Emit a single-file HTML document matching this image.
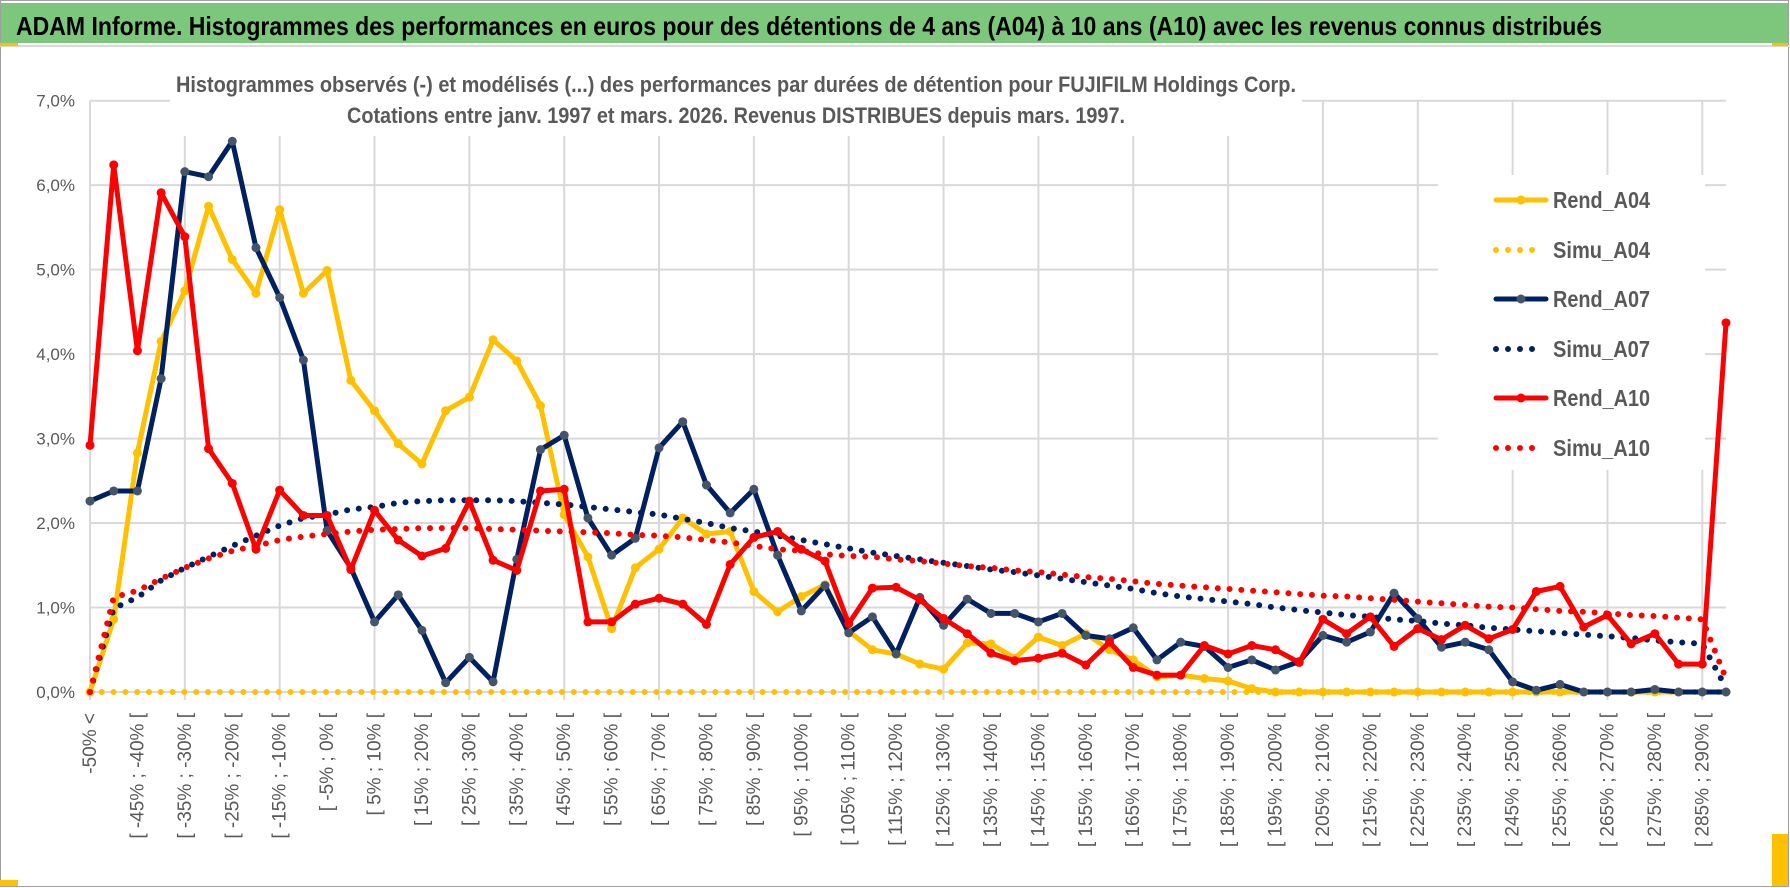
<!DOCTYPE html>
<html><head><meta charset="utf-8"><style>
html,body{margin:0;padding:0;background:#fff;}
svg{display:block;font-family:"Liberation Sans",sans-serif;}
</style></head><body>
<svg id="chart" width="1790" height="888" viewBox="0 0 1790 888">
<rect x="0.5" y="0.5" width="1788" height="886" fill="#fff" stroke="#a0a0a0"/>
<rect x="1" y="3" width="1787" height="40" fill="#7DC77D"/>
<line x1="0" y1="46" x2="1790" y2="46" stroke="#d9d9d9" stroke-width="2"/>
<rect x="0" y="43" width="18" height="3" fill="#FFC000"/>
<rect x="1772" y="43" width="16" height="3" fill="#FFC000"/>
<rect x="1772" y="834" width="16" height="52" fill="#FFC000"/>
<rect x="0" y="880" width="18" height="6" fill="#FFC000"/>
<text x="16" y="35" font-size="26" font-weight="bold" fill="#000" textLength="1586" lengthAdjust="spacingAndGlyphs">ADAM Informe. Histogrammes des performances en euros pour des détentions de 4 ans (A04) à 10 ans (A10) avec les revenus connus distribués</text>
<g id="grid"></g>
<rect x="170" y="58" width="1132" height="78" fill="#fff"/>
<text x="176" y="92" font-size="22" font-weight="bold" fill="#595959" textLength="1120" lengthAdjust="spacingAndGlyphs">Histogrammes observés (-) et modélisés (...) des performances par durées de détention pour FUJIFILM Holdings Corp.</text>
<text x="347" y="123" font-size="22" font-weight="bold" fill="#595959" textLength="778" lengthAdjust="spacingAndGlyphs">Cotations entre janv. 1997 et mars. 2026. Revenus DISTRIBUES depuis mars. 1997.</text>
<g id="yaxis"></g>
<g id="xaxis"></g>
<g id="series"></g>
<g id="legend"></g>
</svg>
<script>
const categories = ["-50% <","[ -50% ; -45% [","[ -45% ; -40% [","[ -40% ; -35% [","[ -35% ; -30% [","[ -30% ; -25% [","[ -25% ; -20% [","[ -20% ; -15% [","[ -15% ; -10% [","[ -10% ; -5% [","[ -5% ; 0% [","[ 0% ; 5% [","[ 5% ; 10% [","[ 10% ; 15% [","[ 15% ; 20% [","[ 20% ; 25% [","[ 25% ; 30% [","[ 30% ; 35% [","[ 35% ; 40% [","[ 40% ; 45% [","[ 45% ; 50% [","[ 50% ; 55% [","[ 55% ; 60% [","[ 60% ; 65% [","[ 65% ; 70% [","[ 70% ; 75% [","[ 75% ; 80% [","[ 80% ; 85% [","[ 85% ; 90% [","[ 90% ; 95% [","[ 95% ; 100% [","[ 100% ; 105% [","[ 105% ; 110% [","[ 110% ; 115% [","[ 115% ; 120% [","[ 120% ; 125% [","[ 125% ; 130% [","[ 130% ; 135% [","[ 135% ; 140% [","[ 140% ; 145% [","[ 145% ; 150% [","[ 150% ; 155% [","[ 155% ; 160% [","[ 160% ; 165% [","[ 165% ; 170% [","[ 170% ; 175% [","[ 175% ; 180% [","[ 180% ; 185% [","[ 185% ; 190% [","[ 190% ; 195% [","[ 195% ; 200% [","[ 200% ; 205% [","[ 205% ; 210% [","[ 210% ; 215% [","[ 215% ; 220% [","[ 220% ; 225% [","[ 225% ; 230% [","[ 230% ; 235% [","[ 235% ; 240% [","[ 240% ; 245% [","[ 245% ; 250% [","[ 250% ; 255% [","[ 255% ; 260% [","[ 260% ; 265% [","[ 265% ; 270% [","[ 270% ; 275% [","[ 275% ; 280% [","[ 280% ; 285% [","[ 285% ; 290% [","[ 290% ; 295% ["];
const yTicks = [0,1,2,3,4,5,6,7];
const yTickLabels = ["0,0%","1,0%","2,0%","3,0%","4,0%","5,0%","6,0%","7,0%"];
const rendA04 = [0,0.86,2.83,4.15,4.75,5.75,5.12,4.72,5.71,4.72,4.99,3.69,3.33,2.94,2.7,3.33,3.49,4.17,3.92,3.39,2.1,1.6,0.75,1.47,1.69,2.06,1.87,1.9,1.19,0.95,1.13,1.27,0.72,0.5,0.45,0.33,0.27,0.58,0.57,0.4,0.65,0.55,0.69,0.5,0.38,0.18,0.2,0.16,0.13,0.04,0,0,0,0,0,0,0,0,0,0,0,0,0,0,0,0,0,0,0,0];
const simuA04 = [0,0,0,0,0,0,0,0,0,0,0,0,0,0,0,0,0,0,0,0,0,0,0,0,0,0,0,0,0,0,0,0,0,0,0,0,0,0,0,0,0,0,0,0,0,0,0,0,0,0,0,0,0,0,0,0,0,0,0,0,0,0,0,0,0,0,0,0,0,0];
const rendA07 = [2.26,2.38,2.38,3.71,6.16,6.1,6.52,5.26,4.67,3.93,1.91,1.47,0.83,1.15,0.73,0.11,0.41,0.12,1.57,2.87,3.04,2.06,1.62,1.82,2.89,3.2,2.45,2.12,2.4,1.62,0.96,1.26,0.7,0.89,0.45,1.12,0.79,1.1,0.93,0.93,0.83,0.93,0.67,0.63,0.76,0.38,0.59,0.54,0.29,0.38,0.26,0.36,0.67,0.59,0.71,1.17,0.87,0.53,0.59,0.5,0.12,0.02,0.09,0,0,0,0.03,0,0,0];
const simuA07 = [0,0.99,1.12,1.32,1.47,1.6,1.73,1.85,1.97,2.06,2.1,2.16,2.19,2.24,2.26,2.27,2.27,2.27,2.26,2.24,2.22,2.19,2.16,2.13,2.1,2.05,2.0,1.94,1.9,1.85,1.8,1.75,1.7,1.65,1.61,1.57,1.53,1.49,1.45,1.42,1.38,1.34,1.3,1.26,1.22,1.17,1.13,1.1,1.07,1.04,1.0,0.97,0.94,0.91,0.89,0.86,0.84,0.81,0.79,0.76,0.74,0.72,0.7,0.68,0.66,0.64,0.61,0.59,0.57,0.05];
const rendA10 = [2.92,6.24,4.04,5.91,5.39,2.88,2.47,1.69,2.39,2.09,2.09,1.45,2.15,1.8,1.61,1.7,2.26,1.56,1.44,2.38,2.4,0.83,0.83,1.04,1.11,1.04,0.8,1.51,1.83,1.9,1.69,1.55,0.81,1.23,1.24,1.09,0.87,0.69,0.46,0.37,0.4,0.46,0.32,0.59,0.29,0.2,0.2,0.55,0.45,0.55,0.5,0.35,0.86,0.69,0.89,0.54,0.75,0.62,0.79,0.63,0.74,1.19,1.25,0.77,0.91,0.57,0.69,0.33,0.33,4.37];
const simuA10 = [0,1.12,1.2,1.34,1.47,1.58,1.67,1.73,1.8,1.84,1.87,1.9,1.92,1.93,1.94,1.94,1.94,1.93,1.92,1.91,1.9,1.89,1.88,1.86,1.85,1.83,1.8,1.77,1.73,1.69,1.67,1.63,1.61,1.6,1.57,1.55,1.52,1.49,1.47,1.44,1.42,1.39,1.36,1.34,1.31,1.28,1.26,1.24,1.22,1.2,1.18,1.16,1.14,1.13,1.11,1.09,1.07,1.05,1.03,1.01,1.0,0.98,0.96,0.95,0.93,0.91,0.9,0.88,0.86,0.16];

const NS = "http://www.w3.org/2000/svg";
const X0 = 90, X1 = 1726, Y0 = 692, YTOP = 100.7, YMAX = 7;
function xPos(i){ return X0 + (X1 - X0) * i / (categories.length - 1); }
function yPos(v){ return Y0 - (Y0 - YTOP) * v / YMAX; }
function mk(tag, attrs, parent){ const e = document.createElementNS(NS, tag); for (const k in attrs) e.setAttribute(k, attrs[k]); parent.appendChild(e); return e; }

const grid = document.getElementById('grid');
yTicks.forEach(t => {
  const l = mk('line', {x1: X0, x2: X1, y1: yPos(t), y2: yPos(t), stroke: '#d9d9d9', 'stroke-width': 2}, grid);
  
  
});
categories.forEach((c, i) => {
  if (i % 4 !== 0) return;
  const l = mk('line', {x1: xPos(i), x2: xPos(i), y1: YTOP, y2: Y0 + 8, stroke: '#d9d9d9', 'stroke-width': 2}, grid);
  
  
});

const yaxis = document.getElementById('yaxis');
yTicks.forEach((t, k) => {
  const tx = mk('text', {x: 75, y: yPos(t) + 6, 'text-anchor': 'end', 'font-size': 17, fill: '#595959'}, yaxis);
  tx.textContent = yTickLabels[k];
  
  
});

const xaxis = document.getElementById('xaxis');
categories.forEach((c, i) => {
  if (i % 2 !== 0) return;
  const x = xPos(i) + 6, y = 713;
  const tx = mk('text', {x: x, y: y, 'text-anchor': 'end', 'font-size': 19, fill: '#595959', transform: `rotate(-90 ${x} ${y})`}, xaxis);
  tx.textContent = c;
  
  
});

const seriesG = document.getElementById('series');
function pts(arr){ return arr.map((v, i) => xPos(i).toFixed(1) + ',' + yPos(v).toFixed(1)).join(' '); }
function drawRend(arr, color, marker, name){
  const g = mk('g', {}, seriesG);
  
  
  const pl = mk('polyline', {points: pts(arr), fill: 'none', stroke: color, 'stroke-width': 5, 'stroke-linejoin': 'round', 'stroke-linecap': 'round'}, g);
  
  
  arr.forEach((v, i) => {
    const c = mk('circle', {cx: xPos(i), cy: yPos(v), r: 4.5, fill: marker}, g);
    
    
  });
}
function drawSimu(arr, color, name){
  const pl = mk('polyline', {points: pts(arr), fill: 'none', stroke: color, 'stroke-width': 6, 'stroke-linecap': 'round', 'stroke-dasharray': '0 11.8'}, seriesG);
  
  
}
drawRend(rendA04, '#FFC000', '#FFC000', 'rend-a04');
drawSimu(simuA04, '#FFC000', 'simu-a04');
drawRend(rendA07, '#002060', '#44546A', 'rend-a07');
drawSimu(simuA07, '#002060', 'simu-a07');
drawRend(rendA10, '#FF0000', '#FF0000', 'rend-a10');
drawSimu(simuA10, '#FF0000', 'simu-a10');

const legend = document.getElementById('legend');
const lb = mk('rect', {x: 1438, y: 175, width: 267, height: 295, fill: '#fff'}, legend);


const legItems = [
  ['Rend_A04', '#FFC000', '#FFC000', false, 200],
  ['Simu_A04', '#FFC000', null, true, 250],
  ['Rend_A07', '#002060', '#44546A', false, 299],
  ['Simu_A07', '#002060', null, true, 349],
  ['Rend_A10', '#FF0000', '#FF0000', false, 398],
  ['Simu_A10', '#FF0000', null, true, 448]
];
legItems.forEach(it => {
  const g = mk('g', {}, legend);
  
  
  const y = it[4];
  if (it[3]) {
    mk('line', {x1: 1496, x2: 1538, y1: y, y2: y, stroke: it[1], 'stroke-width': 6, 'stroke-linecap': 'round', 'stroke-dasharray': '0 12'}, g);
  } else {
    mk('line', {x1: 1496, x2: 1546, y1: y, y2: y, stroke: it[1], 'stroke-width': 5, 'stroke-linecap': 'round'}, g);
    mk('circle', {cx: 1521, cy: y, r: 4.5, fill: it[2]}, g);
  }
  const t = mk('text', {x: 1553, y: y + 8, 'font-size': 23, 'font-weight': 'bold', fill: '#595959', textLength: 97, lengthAdjust: 'spacingAndGlyphs'}, g);
  t.textContent = it[0];
});
</script>
</body></html>
